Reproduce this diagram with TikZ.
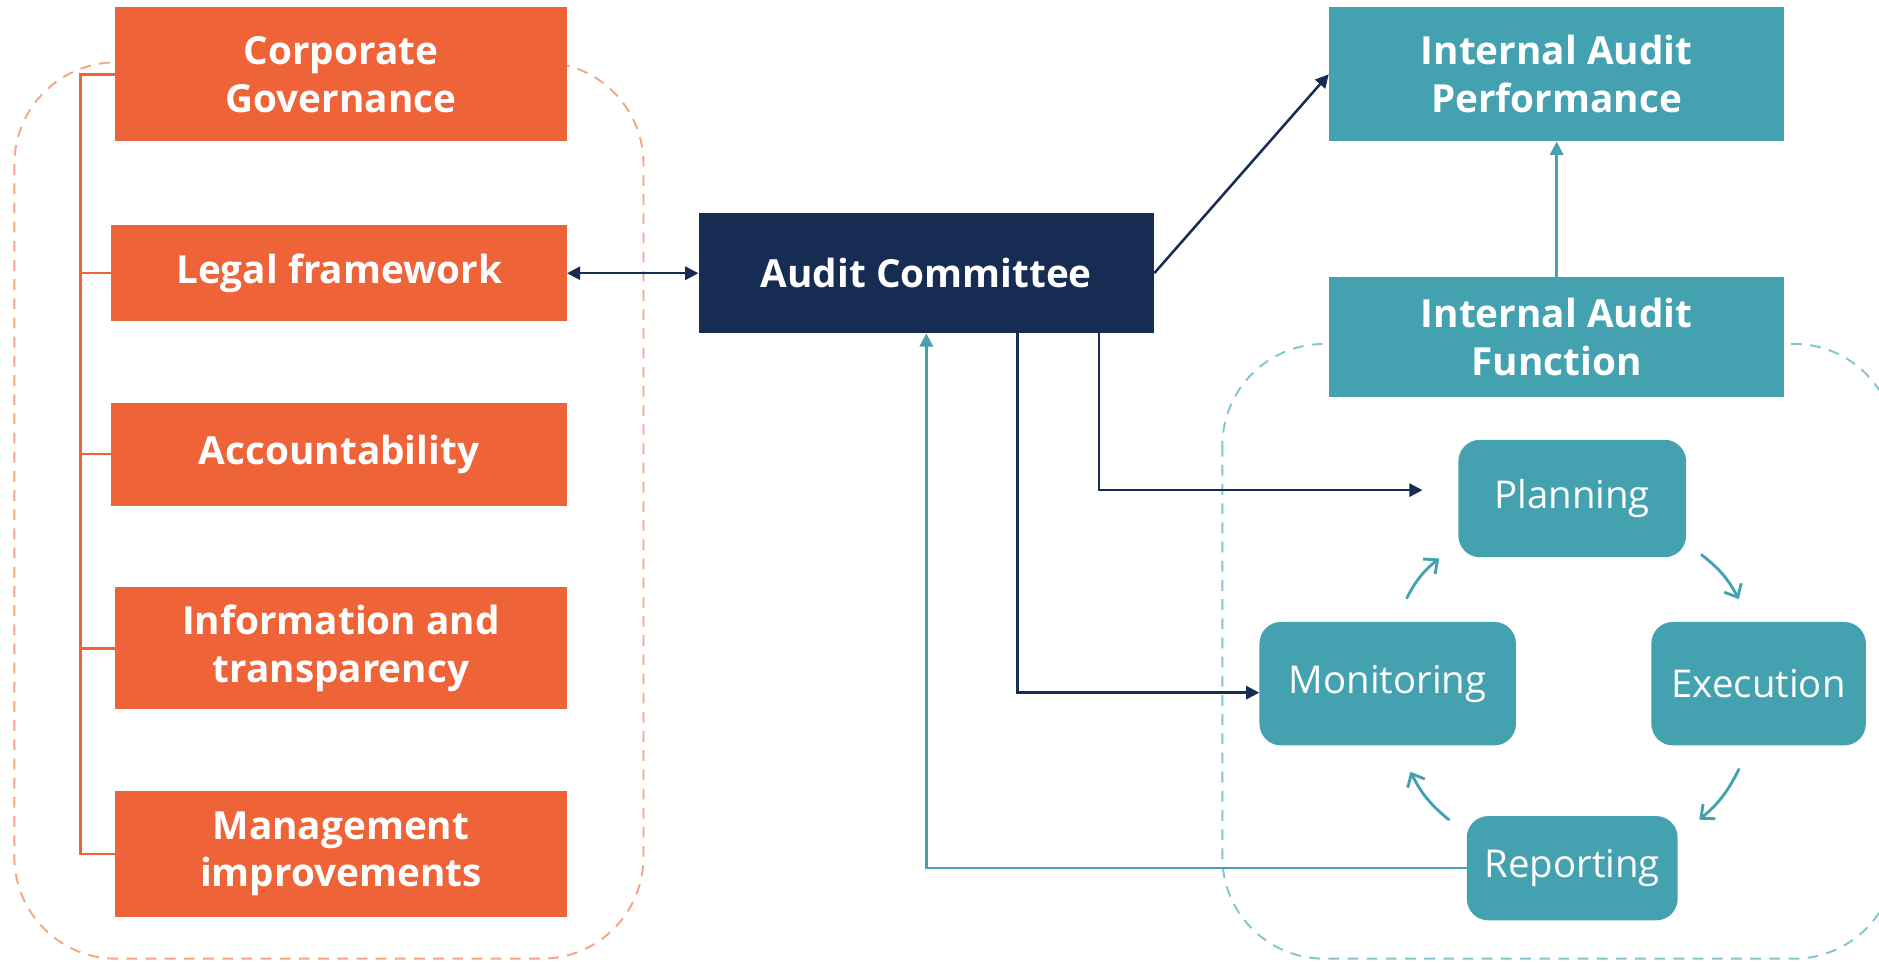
\documentclass[tikz,border=0pt]{standalone}
\usepackage{fontspec}
\setmainfont{Open Sans}
\usetikzlibrary{arrows.meta}
\definecolor{orng}{HTML}{EE6338}
\definecolor{orngdash}{HTML}{F5A585}
\definecolor{navy}{HTML}{162C53}
\definecolor{tealc}{HTML}{44A2B0}
\definecolor{tealdash}{HTML}{82C6D0}
\begin{document}
\begin{tikzpicture}[x=1pt,y=-1pt,
  box/.style={draw=none, text=white, align=center, inner sep=0pt, font=\fontsize{32.3}{40}\selectfont\bfseries},
  obox/.style={box, fill=orng},
  tbox/.style={box, fill=tealc},
  rbox/.style={draw=none, fill=tealc, text=white, align=center, inner sep=0pt, rounded corners=18pt, font=\fontsize{32}{40}\selectfont},
  navyline/.style={draw=navy, line width=2.1pt, -{Triangle[length=11pt,width=11pt]}},
  tealline/.style={draw=tealc, line width=2.1pt, -{Triangle[length=11pt,width=11pt]}},
  cyc/.style={draw=tealc, line width=2.4pt, -{Straight Barb[length=9pt,width=16pt,line width=2.4pt]}, line cap=round},
  bracket/.style={draw=orng, line width=2.1pt},
  odash/.style={draw=orngdash, line width=1.6pt, dash pattern=on 9pt off 7pt, rounded corners=85pt},
  tdash/.style={draw=tealdash, line width=1.6pt, dash pattern=on 9pt off 7pt, rounded corners=85pt}]
\clip (0,0) rectangle (1568,802.8);
\useasboundingbox (0,0) rectangle (1568,802.8);
\fill[white] (0,0) rectangle (1568,802.8);

% dashed groups
\draw[odash] (12,52) rectangle (537,800);
\draw[tdash] (1020,287) rectangle (1582,800);

% left orange boxes
\node[obox, minimum width=377pt, minimum height=112pt] (CG) at (284.5,62) {Corporate\\Governance};
\node[obox, minimum width=380pt, minimum height=80pt] (LF) at (283,228) {Legal framework};
\node[obox, minimum width=380pt, minimum height=86pt] (ACC) at (283,379) {Accountability};
\node[obox, minimum width=377pt, minimum height=102pt] (IT) at (284.5,541) {Information and\\transparency};
\node[obox, minimum width=377pt, minimum height=105pt] (MI) at (284.5,712.5) {Management\\improvements};

% audit committee
\node[box, fill=navy, minimum width=380pt, minimum height=100pt] (AC) at (773,228) {Audit Committee};

% teal boxes
\node[tbox, minimum width=380pt, minimum height=112pt] (IAP) at (1299,62) {Internal Audit\\Performance};
\node[tbox, minimum width=380pt, minimum height=100pt] (IAF) at (1299,281) {Internal Audit\\Function};

\node[rbox, minimum width=190pt, minimum height=98pt] (PL) at (1312,416) {Planning};
\node[rbox, minimum width=214pt, minimum height=103pt] (MO) at (1158,570.5) {Monitoring};
\node[rbox, minimum width=179pt, minimum height=103pt] (EX) at (1467.5,570.5) {Execution};
\node[rbox, minimum width=176pt, minimum height=87pt] (RE) at (1312,724.5) {Reporting};

% bracket
\coordinate (bx) at (67,62);
\draw[bracket] (CG.west) -- (bx) |- (MI.west);
\draw[bracket] (LF.west) -- (LF.west -| bx);
\draw[bracket] (ACC.west) -- (ACC.west -| bx);
\draw[bracket] (IT.west) -- (IT.west -| bx);

% navy connectors
\draw[navyline, {Triangle[length=11pt,width=11pt]}-{Triangle[length=11pt,width=11pt]}] (LF.east) -- (AC.west);
\draw[navyline] (AC.east) -- (IAP.west);
\coordinate (plin) at (1187,409);
\coordinate (moin) at (MO.west |- 0,578);
\draw[navyline] ([xshift=144pt]AC.south) |- (plin);
\draw[navyline] ([xshift=76pt]AC.south) |- (moin);

% teal connectors
\draw[tealline] (IAF.north) -- (IAP.south);
\draw[tealline] (RE.west) -| (AC.south);

% cycle arrows
\coordinate (c1a) at (1174,499);
\coordinate (c1b) at (1201,466);
\coordinate (c2a) at (1420,463);
\coordinate (c2b) at (1451,500);
\coordinate (c3a) at (1451,642);
\coordinate (c3b) at (1418,684);
\coordinate (c4a) at (1209,684);
\coordinate (c4b) at (1177,644);
\draw[cyc] (c1a) to[bend left=12] (c1b);
\draw[cyc] (c2a) to[bend left=12] (c2b);
\draw[cyc] (c3a) to[bend left=12] (c3b);
\draw[cyc] (c4a) to[bend left=12] (c4b);
\end{tikzpicture}
\end{document}
